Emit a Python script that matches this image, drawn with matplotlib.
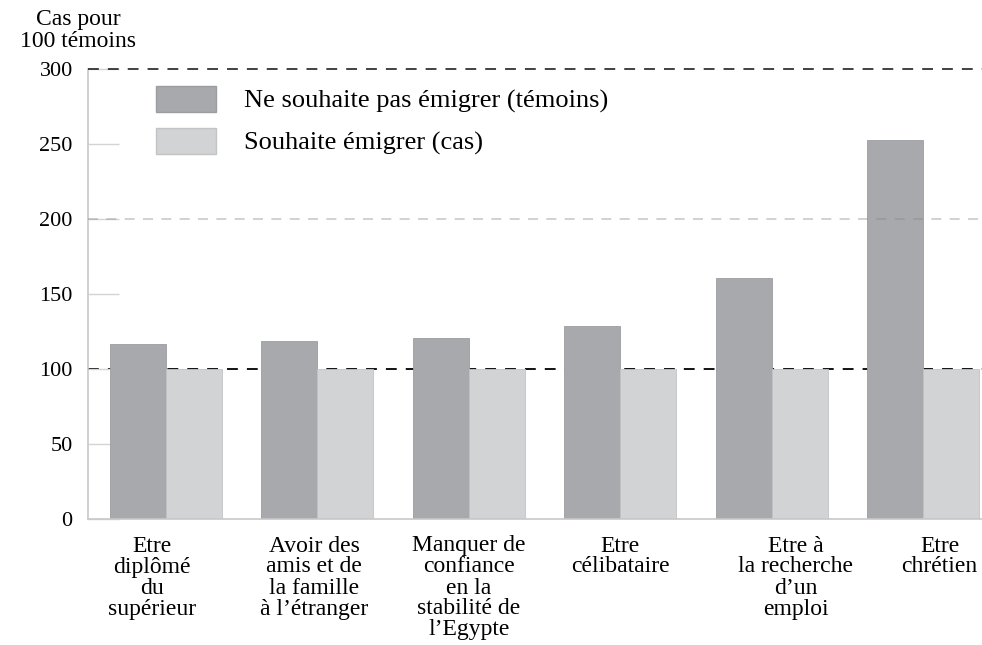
import numpy as np
from matplotlib import pyplot as plt
from matplotlib.patches import Patch

# categories and values
categories = ["Etre\ndiplômé\ndu\nsupérieur",
              "Avoir des\namis et de\nla famille\nà l’étranger",
              "Manquer de\nconfiance\nen la\nstabilité de\nl’Egypte",
              "Etre\ncélibataire",
              "Etre à\nla recherche\nd’un\nemploi",
              "Etre\nchrétien"]
temoins = [117, 119, 121, 129, 161, 253]
cas = [100, 100, 100, 100, 100, 100]
yticks = [0, 50, 100, 150, 200, 250, 300]
series_names = ["Ne souhaite pas émigrer (témoins)", "Souhaite émigrer (cas)"]

dark = '#a8a9ac'
light = '#d2d3d5'
font = 'Liberation Serif'

fig = plt.figure(figsize=(9.82, 6.45), dpi=100)
ax = fig.add_axes([88 / 982, 1 - 519 / 645, 1 - 88 / 982, 450 / 645])

x = np.arange(len(categories))
w = 0.37
ax.bar(x - w / 2, temoins, w, color=dark, edgecolor='#9c9da0', linewidth=0.6, zorder=2)
ax.bar(x + w / 2, cas, w, color=light, edgecolor='#c2c3c5', linewidth=0.6, zorder=2)

ax.set_xlim(-0.515, 5.39)
ax.set_ylim(0, 300)

# reference lines
ax.axhline(100, color='black', lw=1.3, ls=(0, (6, 5)), zorder=1)
ax.axhline(300, color='#333333', lw=1.3, ls=(0, (6, 5)), zorder=3, clip_on=False)
ax.axhline(200, color='#888888', lw=1.2, ls=(0, (6, 5)), alpha=0.45, zorder=3)

ax.set_yticks(yticks)
ax.set_yticklabels([str(v) for v in yticks], fontsize=16, family=font)
ax.tick_params(axis='y', direction='in', length=22, color='#d4d4d4', width=1, pad=11)
ax.set_xticks([])

for s in ['top', 'right']:
    ax.spines[s].set_visible(False)
ax.spines['left'].set_color('#c8c8c8')
ax.spines['bottom'].set_color('#c8c8c8')
ax.spines['left'].set_linewidth(1.2)
ax.spines['bottom'].set_linewidth(1.2)

# category labels under the groups
offsets = [-0.09, -0.02, 0.0, 0.0, 0.16, 0.11]
for i, lab in enumerate(categories):
    ax.text(x[i] + offsets[i], -11, lab, ha='center', va='top', fontsize=17,
            family=font, linespacing=1.0, transform=ax.transData)

# axis title
fig.text(78 / 982, 1 - 9 / 645, "Cas pour\n100 témoins", ha='center', va='top',
         fontsize=17, family=font, linespacing=1.05)

handles = [Patch(facecolor=dark, edgecolor='#9c9da0'), Patch(facecolor=light, edgecolor='#c2c3c5')]
ax.legend(handles, series_names, loc='upper left', bbox_to_anchor=(0.049, 1.016),
          frameon=False, prop={'family': font, 'size': 19},
          handlelength=2.3, handleheight=1.15, handletextpad=1.05, labelspacing=0.55)

plt.savefig('out.png', dpi=100)
